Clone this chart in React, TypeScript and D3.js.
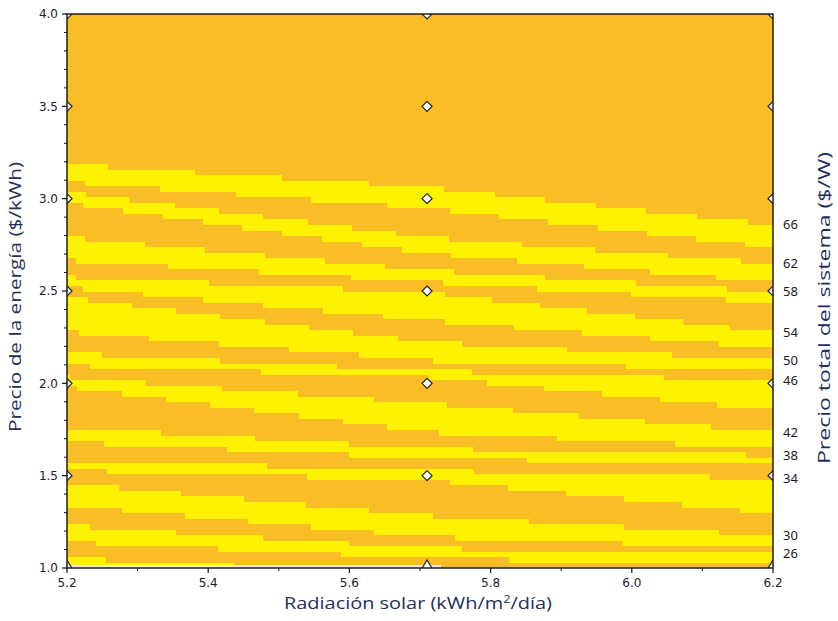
import React from 'react';
import * as d3 from 'd3';

// Sensitivity grid (HOMER cases) and axis ticks
const radiationTicks = [5.2, 5.4, 5.6, 5.8, 6.0, 6.2];
const radiationMinorTicks = [5.3, 5.5, 5.7, 5.9, 6.1];
const priceTicks = [1.0, 1.5, 2.0, 2.5, 3.0, 3.5, 4.0];
const priceMinorTicks = [1.1, 1.2, 1.3, 1.4, 1.6, 1.7, 1.8, 1.9, 2.1, 2.2, 2.3, 2.4, 2.6, 2.7, 2.8, 2.9, 3.1, 3.2, 3.3, 3.4, 3.6, 3.7, 3.8, 3.9];
const sensitivityRadiation = [5.2, 5.71, 6.2];
const sensitivityPrice = [1.0, 1.5, 2.0, 2.5, 3.0, 3.5, 4.0];

// Contour levels of "Precio total del sistema ($/W)" and the energy price ($/kWh)
// where each level crosses radiation 5.2, 5.71 and 6.2 kWh/m2/dia
const contourLevels = [66, 64, 62, 60, 58, 56, 54, 52, 50, 48, 46, 44, 42, 40, 38, 36, 34, 32, 30, 28, 26, 24, 22];
const levelPriceAt52 = [3.189, 3.092, 3.038, 2.977, 2.794, 2.668, 2.577, 2.523, 2.469, 2.280, 2.164, 2.099, 2.036, 1.982, 1.765, 1.684, 1.585, 1.531, 1.460, 1.341, 1.233, 1.142, 1.054];
const levelPriceAt57 = [3.065, 2.949, 2.794, 2.706, 2.614, 2.550, 2.496, 2.343, 2.225, 2.126, 2.072, 2.036, 1.894, 1.738, 1.650, 1.596, 1.531, 1.477, 1.287, 1.170, 1.108, 1.054, 0.970];
const levelPriceAt62 = [2.860, 2.738, 2.652, 2.549, 2.500, 2.440, 2.278, 2.191, 2.126, 2.072, 2.018, 1.856, 1.737, 1.650, 1.612, 1.558, 1.487, 1.298, 1.178, 1.108, 1.078, 1.016, 0.940];
const labelledLevels = [66, 62, 58, 54, 50, 46, 42, 38, 34, 30, 26];

// Region without result at the bottom edge
const noResultRadiation = [5.2, 5.73];
const noResultPrice = [1.0, 1.016];

const W = 838;
const H = 621;
const ORANGE = '#F9BE26';
const YELLOW = '#FFF200';
const TEXT = '#1e2f5c';

export default function App() {
  const x = d3.scaleLinear().domain([5.2, 6.2]).range([67, 773]);
  const y = d3.scaleLinear().domain([1.0, 4.0]).range([568, 14]);
  const [x0, x1] = x.range();
  const [yb, yt] = y.range();

  const boundaries = contourLevels.map((_, i) =>
    d3.scaleLinear().domain(sensitivityRadiation).range([levelPriceAt52[i], levelPriceAt57[i], levelPriceAt62[i]])
  );

  // raster of the surface: rows quantised in price, runs merged along x
  const rowStep = 0.03;
  const nRows = Math.round((4 - 1) / rowStep);
  const cells: { x: number; y: number; w: number; h: number; c: string }[] = [];
  for (let r = 0; r < nRows; r++) {
    const v0 = 1 + r * rowStep;
    const v1 = v0 + rowStep;
    const vc = (v0 + v1) / 2;
    let runStart = x0;
    let runColor = '';
    for (let px = x0; px < x1; px++) {
      const xv = x.invert(px + 0.5);
      let count = 0;
      for (const b of boundaries) if (b(xv) > vc) count++;
      const c = count % 2 === 1 ? YELLOW : ORANGE;
      if (c !== runColor) {
        if (runColor) cells.push({ x: runStart, y: y(v1), w: px - runStart, h: y(v0) - y(v1), c: runColor });
        runColor = c;
        runStart = px;
      }
    }
    cells.push({ x: runStart, y: y(v1), w: x1 - runStart, h: y(v0) - y(v1), c: runColor });
  }

  const diamond = 'M0,-5L5,0L0,5L-5,0Z';
  const triangle = 'M0,-8L6,2L-6,2Z';

  return (
    <svg width={W} height={H} style={{ position: 'absolute', left: 0, top: 0, background: '#fff' }}
      fontFamily="'DejaVu Sans', sans-serif">
      <defs>
        <clipPath id="plot">
          <rect x={x0} y={yt} width={x1 - x0} height={yb - yt} />
        </clipPath>
      </defs>
      <g clipPath="url(#plot)" shapeRendering="crispEdges">
        {cells.map((c, i) => (
          <rect key={i} x={c.x} y={c.y} width={c.w + 0.5} height={c.h + 0.5} fill={c.c} />
        ))}
        <rect x={x(noResultRadiation[0])} y={y(noResultPrice[1])} width={x(noResultRadiation[1]) - x(noResultRadiation[0])}
          height={y(noResultPrice[0]) - y(noResultPrice[1])} fill="#f6ede2" />
      </g>
      <g clipPath="url(#plot)">
        {sensitivityRadiation.map((r) =>
          sensitivityPrice.map((p) => (
            <path key={`${r}-${p}`} d={p === 1.0 ? triangle : diamond} transform={`translate(${x(r)},${y(p)})`}
              fill="#fff" stroke="#222" strokeWidth={1.2} />
          ))
        )}
      </g>
      {/* frame */}
      <rect x={x0} y={yt} width={x1 - x0} height={yb - yt} fill="none" stroke="#111" strokeWidth={1.4} />
      {/* left axis */}
      {priceTicks.map((t) => (
        <g key={t}>
          <line x1={x0 - 5} x2={x0} y1={y(t)} y2={y(t)} stroke="#111" strokeWidth={1.2} />
          <text x={x0 - 9} y={y(t)} dy="0.36em" textAnchor="end" fontSize={12} fill="#1a1a2e">{t.toFixed(1)}</text>
        </g>
      ))}
      {priceMinorTicks.map((t) => (
        <line key={t} x1={x0 - 3} x2={x0} y1={y(t)} y2={y(t)} stroke="#111" strokeWidth={1} />
      ))}
      {/* bottom axis */}
      {radiationTicks.map((t) => (
        <g key={t}>
          <line x1={x(t)} x2={x(t)} y1={yb} y2={yb + 5} stroke="#111" strokeWidth={1.2} />
          <text x={x(t)} y={yb + 19} textAnchor="middle" fontSize={12} fill="#1a1a2e">{t.toFixed(1)}</text>
        </g>
      ))}
      {radiationMinorTicks.map((t) => (
        <line key={t} x1={x(t)} x2={x(t)} y1={yb} y2={yb + 3} stroke="#111" strokeWidth={1} />
      ))}
      {/* right contour labels */}
      {labelledLevels.map((lv) => {
        const i = contourLevels.indexOf(lv);
        return (
          <text key={lv} x={x1 + 10} y={y(levelPriceAt62[i])} dy="0.36em" fontSize={13} fill="#1a1a2e"
            fontFamily="'Noto Sans', sans-serif">{lv}</text>
        );
      })}
      {/* titles */}
      <text transform={`translate(21,${(yt + yb) / 2 + 6}) rotate(-90)`} textAnchor="middle" fontSize={16}
        fill={TEXT} fontFamily="'Open Sans', sans-serif" textLength={270} lengthAdjust="spacingAndGlyphs">
        Precio de la energía ($/kWh)
      </text>
      <text transform={`translate(830,308) rotate(-90)`} textAnchor="middle" fontSize={16}
        fill={TEXT} fontFamily="'Open Sans', sans-serif" textLength={312} lengthAdjust="spacingAndGlyphs">
        Precio total del sistema ($/W)
      </text>
      <text x={418} y={609} textAnchor="middle" fontSize={17} fill={TEXT}
        fontFamily="'Open Sans', sans-serif" textLength={268} lengthAdjust="spacingAndGlyphs">
        Radiación solar (kWh/m<tspan dy={-6} fontSize={11}>2</tspan><tspan dy={6}>/día)</tspan>
      </text>
    </svg>
  );
}
